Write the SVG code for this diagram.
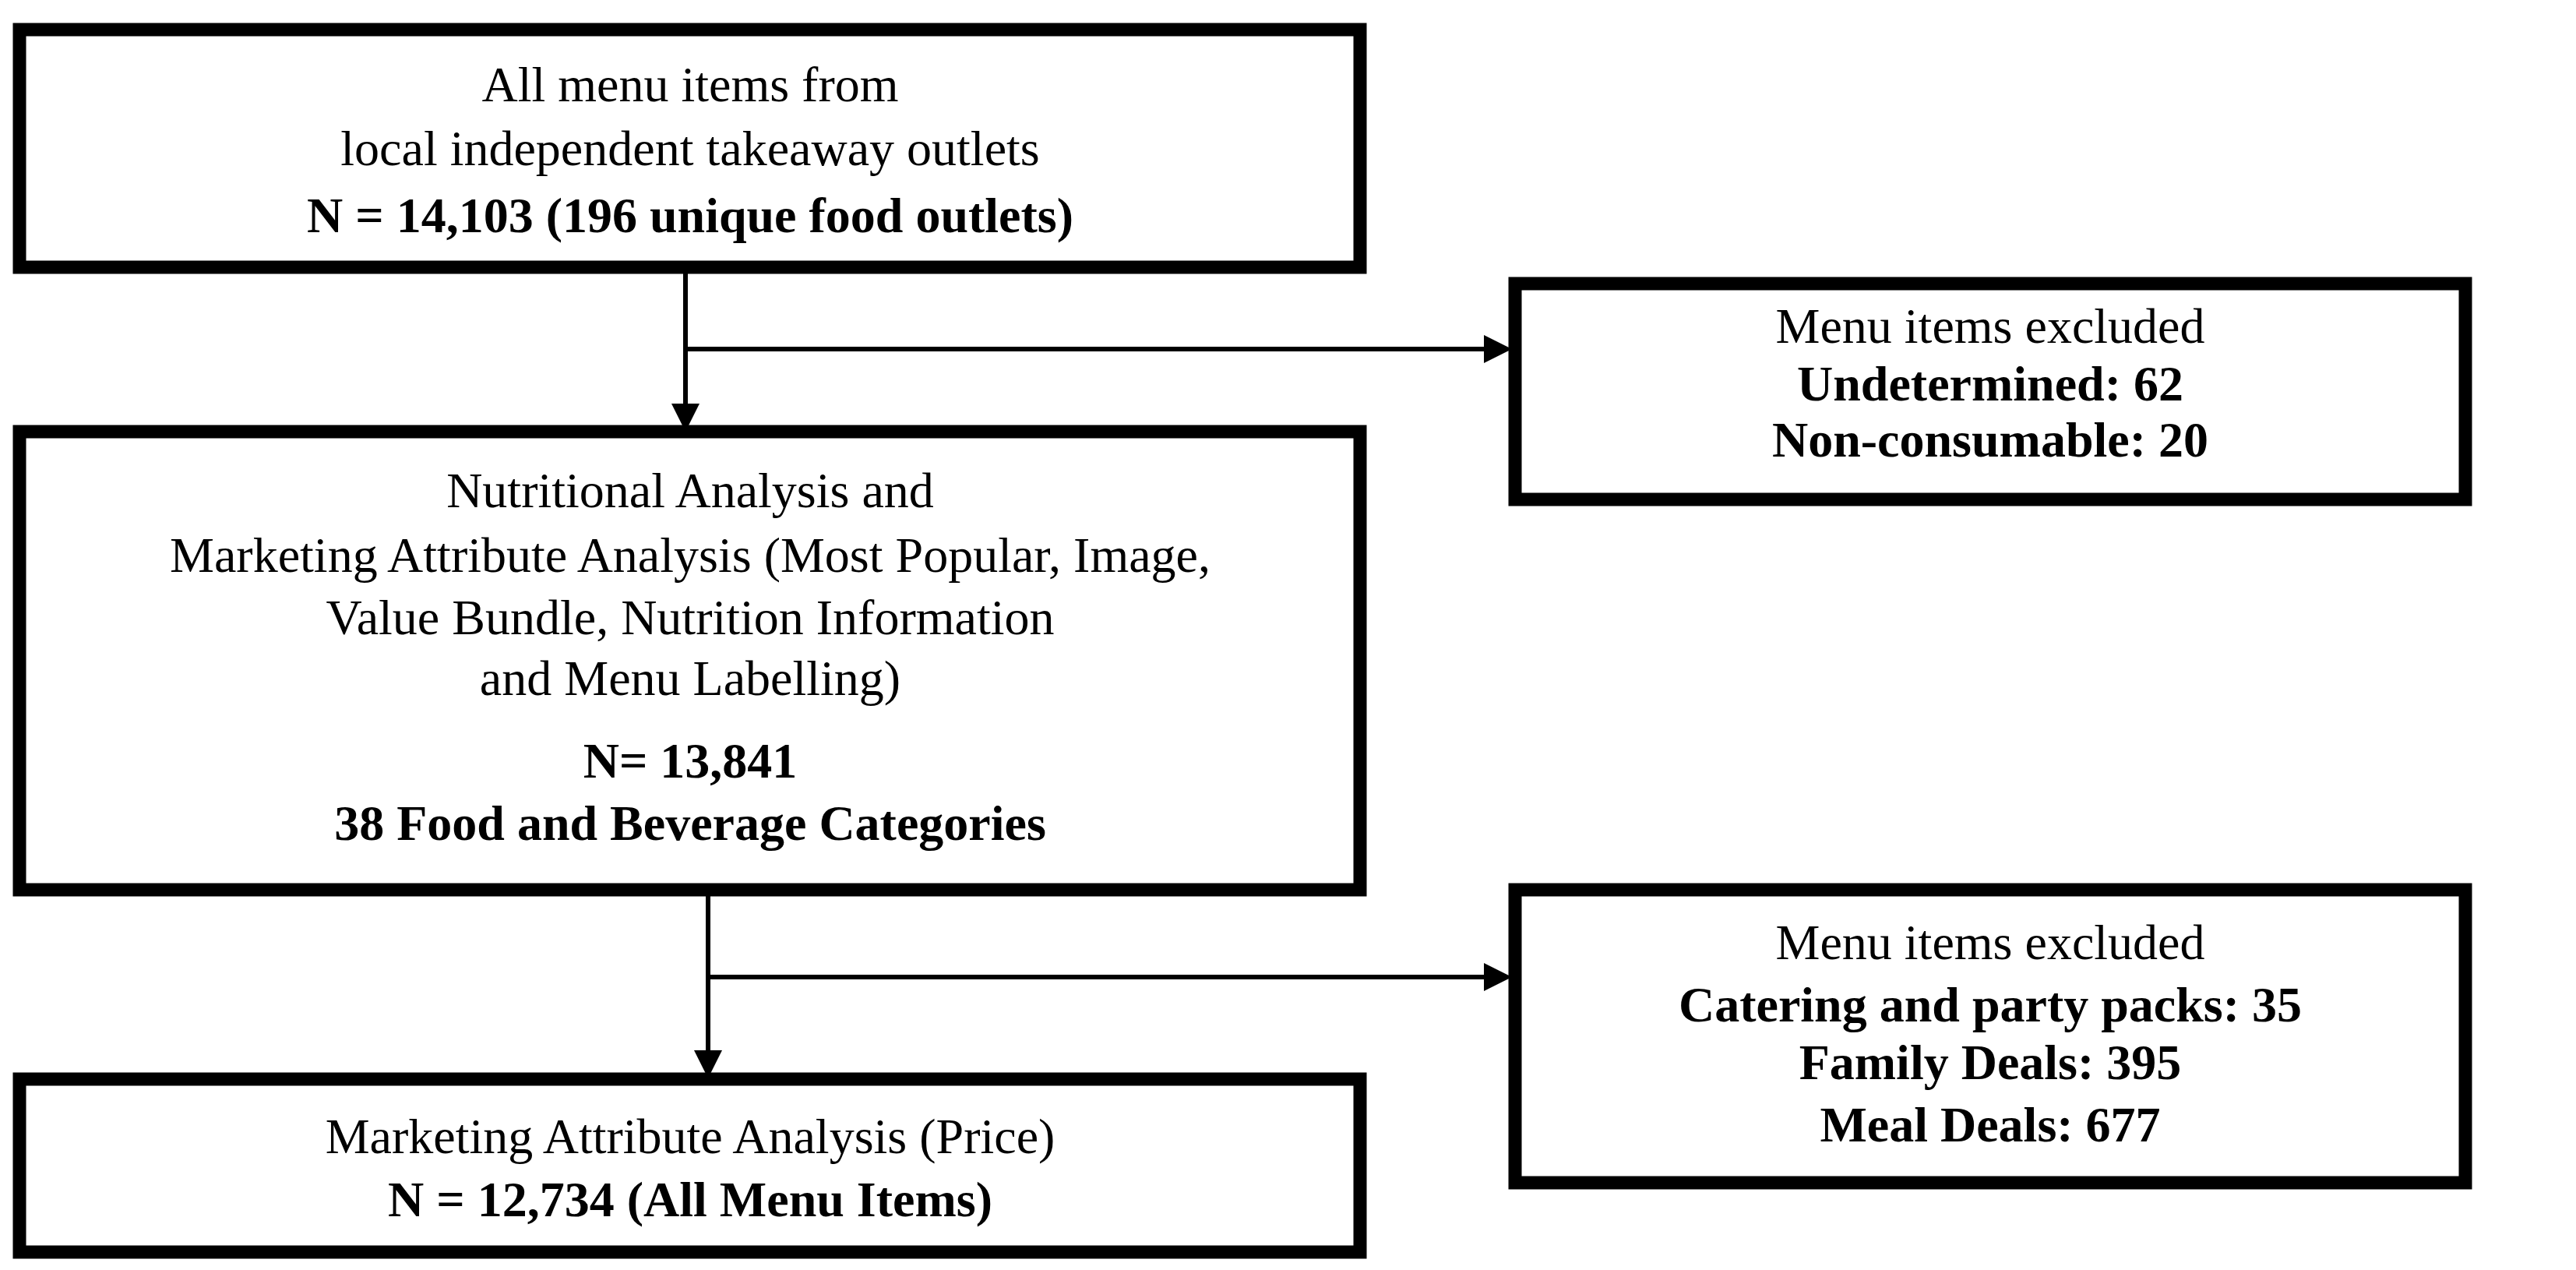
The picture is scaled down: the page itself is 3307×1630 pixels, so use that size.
<svg xmlns="http://www.w3.org/2000/svg" width="3307" height="1630" viewBox="0 0 3307 1630">
<style>
.box{fill:#fff;stroke:#000;stroke-width:17}
.ln{fill:none;stroke:#000;stroke-width:6}
text{font-family:"Liberation Serif",serif;font-size:64px;text-anchor:middle;fill:#000}
.b{font-weight:bold}
</style>
<defs><marker id="ah" markerWidth="6" markerHeight="6" refX="5" refY="3" orient="auto" markerUnits="strokeWidth"><path d="M0,0 L6,3 L0,6 z" fill="#000"/></marker></defs>
<g id="connectors">
<path class="ln" d="M880,343 V548" marker-end="url(#ah)"/>
<path class="ln" d="M880,448 H1935" marker-end="url(#ah)"/>
<path class="ln" d="M909,1142 V1378" marker-end="url(#ah)"/>
<path class="ln" d="M909,1254 H1935" marker-end="url(#ah)"/>
</g>
<g id="n1"><rect class="box" x="25" y="38" width="1721" height="305"/>
<text x="886" y="130">All menu items from</text>
<text x="886" y="212">local independent takeaway outlets</text>
<text x="886" y="298" class="b">N = 14,103 (196 unique  food outlets)</text></g>
<g id="r1"><rect class="box" x="1945" y="364" width="1220" height="277"/>
<text x="2555" y="440">Menu items excluded</text>
<text x="2555" y="514" class="b">Undetermined:  62</text>
<text x="2555" y="586" class="b">Non-consumable:  20</text>
<text x="2555" y="600" class="b" dy="0" display="none"></text>
</g>
<g id="n2"><rect class="box" x="25" y="554" width="1721" height="588"/>
<text x="886" y="651">Nutritional Analysis and</text>
<text x="886" y="734">Marketing Attribute Analysis (Most  Popular,  Image,</text>
<text x="886" y="814">Value Bundle, Nutrition  Information</text>
<text x="886" y="892">and Menu Labelling)</text>
<text x="886" y="998" class="b">N= 13,841</text>
<text x="886" y="1078" class="b">38 Food and Beverage Categories</text></g>
<g id="r2"><rect class="box" x="1945" y="1142" width="1220" height="376"/>
<text x="2555" y="1231">Menu items excluded</text>
<text x="2555" y="1311" class="b">Catering and party packs: 35</text>
<text x="2555" y="1385" class="b">Family Deals: 395</text>
<text x="2555" y="1465" class="b">Meal Deals: 677</text></g>
<g id="n3"><rect class="box" x="25" y="1385" width="1721" height="222"/>
<text x="886" y="1480">Marketing Attribute Analysis (Price)</text>
<text x="886" y="1561" class="b">N = 12,734 (All  Menu Items)</text></g>
</svg>
